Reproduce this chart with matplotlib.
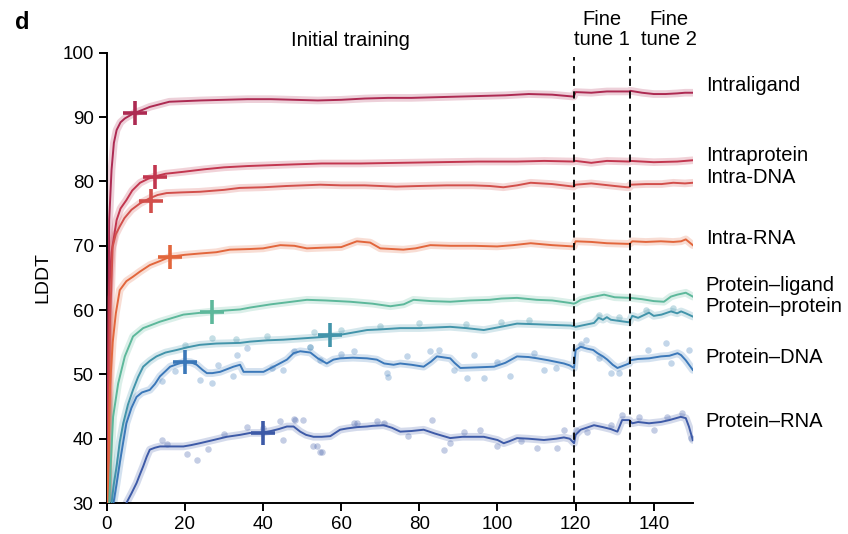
import numpy as np
import matplotlib.pyplot as plt

plt.rcParams['font.family'] = ['Liberation Sans', 'DejaVu Sans']

# --- smoothed curves (x = training step, y = LDDT) ---
intraligand_x = [0.1, 0.6, 1.2, 1.8, 2.5, 3.5, 4.6, 6, 7.2, 9, 11, 13.5, 16, 20, 24, 30, 36, 42, 48, 54,
                 60, 66, 72, 78, 84, 90, 96, 102, 108, 114, 119.5, 120, 124, 128, 132, 133.8, 134, 137,
                 140, 143, 146, 148, 150]
intraligand_y = [28, 74, 81.8, 86, 88, 89.2, 89.8, 90.3, 90.7, 91.1, 91.6, 92.0, 92.4, 92.5, 92.6, 92.7,
                 92.8, 92.8, 92.7, 92.6, 92.7, 92.9, 93.0, 93.0, 93.1, 93.2, 93.3, 93.4, 93.6, 93.5, 93.2,
                 93.9, 93.8, 94.0, 94.0, 94.0, 94.1, 93.8, 93.6, 93.6, 93.7, 93.8, 93.8]

intraprotein_x = [0.1, 0.5, 1.2, 2.5, 3.5, 5, 6.5, 8.5, 10.5, 12.3, 15, 19.5, 25, 30, 36, 45, 55, 65,
                  75, 85, 95, 105, 112, 119.5, 120, 124, 128, 133.8, 134, 140, 146, 150]
intraprotein_y = [28, 62, 69, 74, 75.8, 77.1, 78.6, 79.8, 80.4, 80.8, 81.2, 81.5, 81.9, 82.2, 82.4, 82.6,
                  82.8, 82.8, 82.9, 83.0, 83.1, 83.1, 83.2, 83.1, 83.2, 82.9, 83.2, 83.1, 83.2, 83.0,
                  83.1, 83.3]

intradna_x = [0.3, 0.8, 1.5, 2.3, 3.3, 4.5, 6.3, 8.5, 11, 13, 15.3, 19, 23.8, 30, 34, 40, 46, 54.6, 60,
              66, 74, 80, 87, 93.7, 98, 101.5, 105, 108.5, 114, 119.5, 120, 124, 127, 130, 133.2, 133.8,
              134, 138, 142, 145, 148, 150]
intradna_y = [28, 58, 69.9, 71.8, 73, 74.3, 75.6, 76.6, 77.4, 77.9, 78.2, 78.3, 78.4, 78.7, 79, 79.1,
              79.3, 79.5, 79.4, 79.4, 79.2, 79.3, 79.4, 79.4, 79.3, 79.1, 79.4, 79.8, 79.6, 79.2, 79.5,
              79.7, 79.5, 79.3, 79.1, 79.1, 79.5, 79.6, 79.6, 79.8, 79.7, 79.8]

intrarna_x = [0.2, 0.8, 1.5, 2.3, 3.3, 5, 6.7, 8.5, 11, 13.5, 16.2, 20, 23.8, 28, 31.5, 36.7, 40, 44.4,
              48, 51.2, 55, 60, 64, 67.4, 70, 75.9, 79, 82.8, 88, 94, 99.9, 104, 108.5, 114, 119.5, 120,
              124, 128, 133.2, 133.8, 134.5, 138, 141.8, 145, 147, 148.2, 150]
intrarna_y = [30, 48, 55, 59.5, 63.1, 64.5, 65.2, 66, 67, 67.6, 68.3, 68.6, 68.8, 69.0, 69.4, 69.5,
              69.6, 70.1, 70.0, 69.6, 69.7, 69.8, 70.7, 70.5, 69.6, 69.4, 69.6, 70.1, 70.0, 70.0, 69.9,
              70.1, 70.4, 70.1, 69.9, 70.7, 70.6, 70.4, 70.3, 70.3, 70.7, 70.6, 70.7, 70.6, 70.7, 71.0,
              70.1]

protlig_x = [0.6, 1.0, 1.6, 2.9, 4.6, 6.7, 9.3, 13.6, 19.6, 27.3, 34.1, 36.7, 42, 46, 51.2, 56, 62.3,
             68, 72.6, 76, 78.5, 83, 87.9, 93, 98, 101, 105, 110, 114, 118.7, 119.5, 120, 121.3, 124,
             127.3, 130, 133.8, 134.1, 137, 140, 142.6, 144.4, 146, 148.2, 150]
protlig_y = [30, 36, 43.4, 48.6, 52.8, 55.9, 57.2, 58.2, 59.3, 59.8, 60.1, 60.4, 60.9, 61.2, 61.6, 61.5,
             61.3, 61.0, 60.6, 60.9, 61.6, 61.4, 61.3, 61.5, 61.6, 61.8, 61.9, 61.6, 61.5, 61.1, 61.0,
             61.1, 61.6, 62.0, 62.4, 62.0, 61.9, 61.9, 61.7, 61.4, 61.3, 62.1, 62.4, 62.7, 62.1]

protprot_x = [1.2, 1.8, 2.5, 3.3, 4.2, 5.4, 6.7, 8, 9.3, 11, 12.7, 15, 17.9, 20.5, 23.8, 28, 34.1, 36.7,
              41, 45.2, 50, 57.2, 62, 66.6, 70, 75.1, 80, 84, 87.9, 92, 96.5, 100, 105, 110, 114, 118.7,
              119.5, 120, 124.7, 125.9, 127, 128, 129, 133.7, 134.5, 136, 138.8, 140, 142, 144.4, 146,
              147, 148.2, 150]
protprot_y = [30, 33, 35.7, 39.5, 42.4, 45.3, 47.6, 49.6, 51.2, 52.1, 52.8, 53.4, 53.8, 54.2, 54.6,
              54.8, 54.9, 55.1, 55.3, 55.4, 55.6, 55.9, 56.4, 56.9, 57.0, 57.2, 57.2, 57.3, 57.4, 57.2,
              56.9, 57.3, 57.9, 57.8, 57.7, 57.6, 57.5, 57.4, 58.0, 58.8, 58.5, 58.9, 58.5, 58.1, 59.1,
              58.8, 59.6, 59.1, 59.3, 59.8, 59.5, 59.8, 59.5, 59.0]

protdna_x = [1.7, 2.5, 3.3, 4.2, 5, 6.3, 7.6, 9, 11, 12.3, 13.6, 15, 16.2, 18, 20, 21.5, 23, 24.5, 25.6,
             27, 29, 32.4, 34.1, 35, 37, 40.1, 43, 46.1, 47.8, 49.5, 52.1, 54, 56.3, 58, 59.7, 63, 66.6,
             69.1, 71, 73.4, 75.1, 78, 81.1, 83, 84.5, 87.9, 89, 90.5, 95, 99.1, 102, 105, 108, 110.2,
             113, 117, 118.5, 119.6, 120, 121.3, 123, 124.5, 125.6, 127, 128.1, 129.5, 130.7, 132,
             133.7, 134, 136, 138.8, 141.8, 144, 146.1, 147, 148.2, 150]
protdna_y = [30, 33, 36.2, 39.5, 42.4, 44.8, 46.5, 47.2, 47.6, 48.5, 49.7, 50.5, 51.2, 51.6, 52.0, 51.9,
             51.5, 50.7, 50.2, 50.2, 50.4, 51.2, 51.5, 50.4, 50.4, 50.4, 51.3, 52.3, 53.3, 53.6, 53.4,
             52.5, 51.7, 52.3, 52.5, 52.6, 52.5, 52.3, 51.7, 51.5, 51.7, 51.5, 51.2, 52.0, 52.8, 52.5,
             51.8, 51.0, 51.1, 51.2, 51.8, 52.8, 52.7, 52.5, 52.2, 51.7, 51.4, 51.0, 53.8, 54.3, 54.0,
             53.8, 53.3, 52.8, 52.3, 51.5, 51.0, 51.3, 51.7, 52.2, 52.4, 52.5, 52.8, 52.9, 53.3, 53.0,
             52.2, 50.7]

protrna_x = [5, 6.3, 7.6, 8.5, 9.3, 10.2, 11, 12.3, 13.6, 16, 19.6, 21.5, 23.8, 27.3, 30.7, 34.1, 36.7,
             39.2, 42, 44, 46.1, 47.8, 49.5, 51, 52.9, 55, 57.2, 59.7, 61.5, 64, 66.6, 68, 70.9, 73,
             75.1, 78, 81.1, 84, 87.9, 91, 96.5, 100, 101.6, 103, 105, 108, 111.9, 115, 117, 118.5,
             119.6, 120, 121.3, 124.7, 127, 129, 130.7, 131.9, 133.7, 134.5, 136, 138.8, 141.8, 144,
             146.9, 148.2, 149, 150]
protrna_y = [30, 31.5, 33.1, 34.5, 35.7, 37.2, 38.3, 38.6, 38.8, 38.8, 38.8, 39.0, 39.3, 39.8, 40.3,
             40.6, 40.9, 40.9, 41.2, 41.5, 41.9, 41.9, 41.1, 40.6, 40.3, 40.3, 40.4, 41.4, 41.6, 41.8,
             41.9, 42.0, 42.1, 41.7, 41.1, 41.2, 41.4, 40.8, 40.1, 40.3, 40.3, 39.8, 39.3, 39.6, 40.1,
             40.0, 39.8, 40.0, 40.2, 40.0, 39.3, 40.6, 41.4, 42.1, 41.8, 41.5, 41.1, 42.9, 42.9, 42.4,
             42.6, 42.4, 42.6, 42.9, 43.4, 43.2, 41.9, 39.8]

# --- scattered raw evaluations that stand out from the band ---
protprot_dot_x = [20, 27, 33, 41, 52.1, 53, 60, 70, 80, 92, 101, 108, 126, 131, 138, 145]
protprot_dot_y = [54.6, 55.6, 55.5, 56.0, 54.3, 56.6, 56.9, 57.5, 58.0, 57.9, 58.2, 58.5, 59.2, 59.0,
                  60.0, 60.3]
protdna_dot_x = [14, 17.5, 23.8, 26.8, 28.5, 32.4, 33.3, 35.8, 42.4, 45.2, 47.8, 52.1, 54.6, 60, 63.2,
                 71.7, 71.9, 76.8, 82.8, 84.9, 88.8, 92.2, 93.9, 96.5, 100, 103.3, 109.3, 111.9, 115,
                 121.5, 122.6, 126, 129, 131.1, 138.4, 143.1, 144.4, 149]
protdna_dot_y = [49, 50.5, 49.1, 48.6, 51.5, 49.7, 53, 54.1, 51, 50.7, 53.6, 54.3, 52.3, 53.2, 53.6,
                 50.2, 49.6, 52.8, 53.6, 53.8, 50.7, 49.4, 53, 49.4, 52.0, 49.7, 53.3, 50.7, 51.0,
                 54.8, 55.4, 52.5, 50.2, 50.2, 53.8, 54.9, 51.7, 53.8]
protrna_dot_x = [14, 15.5, 20.4, 23, 26, 30, 35.8, 40, 44.4, 45.2, 47.8, 48.2, 50.3, 52.9, 53.8, 54.6,
                 55, 63.2, 64, 69.1, 70.9, 77, 83.2, 86.2, 87.9, 91.3, 95.6, 99.9, 106, 110.2, 115.3,
                 117, 120, 123, 129, 132, 136.1, 140, 143.4, 147.3, 149.5]
protrna_dot_y = [39.8, 39.2, 37.7, 36.7, 38.4, 40.8, 41.9, 41.6, 42.7, 39.8, 43, 42.9, 42.9, 38.8, 38.8,
                 38, 38, 42.4, 42.4, 42.7, 42.5, 40.5, 42.9, 38.3, 39.3, 41.1, 41.4, 38.8, 39.6, 38.5,
                 38.5, 41.4, 41.4, 41, 42.1, 43.7, 43.4, 41.3, 43.4, 44, 40.1]

names = ['Intraligand', 'Intraprotein', 'Intra-DNA', 'Intra-RNA',
         'Protein–ligand', 'Protein–protein', 'Protein–DNA', 'Protein–RNA']
colors = ['#ad2a52', '#c2364f', '#d24f4b', '#e2663c', '#5db89b', '#4294aa', '#3b78b9', '#3d5aa7']
curves_x = [intraligand_x, intraprotein_x, intradna_x, intrarna_x, protlig_x, protprot_x, protdna_x, protrna_x]
curves_y = [intraligand_y, intraprotein_y, intradna_y, intrarna_y, protlig_y, protprot_y, protdna_y, protrna_y]
label_y = [94.9, 84.1, 80.6, 71.2, 63.9, 60.5, 52.7, 42.6]

# "+" markers on each curve
cross_x = [7.2, 12.3, 11.3, 16.2, 26.9, 57.2, 20.0, 40.0]
cross_y = [90.7, 80.7, 77.0, 68.3, 59.7, 56.1, 52.0, 40.9]

fine_tune_starts = [119.7, 133.8]

fig = plt.figure(figsize=(8.48, 5.34), dpi=100)
ax = fig.add_axes([0.126, 0.058, 0.691, 0.843])

for xs, ys, c in zip(curves_x, curves_y, colors):
    ax.plot(xs, ys, color=c, lw=5.5, alpha=0.22, solid_capstyle='round', zorder=1)

dots = [(protprot_dot_x, protprot_dot_y, colors[5]),
        (protdna_dot_x, protdna_dot_y, colors[6]),
        (protrna_dot_x, protrna_dot_y, colors[7])]
for dx, dy, c in dots:
    ax.scatter(dx, dy, s=22, color=c, alpha=0.3, lw=0, zorder=1)

for xs, ys, c in zip(curves_x, curves_y, colors):
    ax.plot(xs, ys, color=c, lw=1.4, zorder=3)

for cx, cy, c in zip(cross_x, cross_y, colors):
    ax.plot(cx, cy, marker='+', ms=17, mew=2.6, color=c, zorder=4)

for name, ly in zip(names, label_y):
    ax.text(153.3, ly, name, fontsize=14.5, va='center', ha='left', clip_on=False)

for xv in fine_tune_starts:
    ax.plot([xv, xv], [30, 99.4], color='black', lw=1.3, ls=(0, (4, 3)), clip_on=False, zorder=5)

ax.text(62.3, 102.0, 'Initial training', fontsize=14.5, ha='center', va='center', clip_on=False)
ax.text(126.7, 103.6, 'Fine\ntune 1', fontsize=14.5, ha='center', va='center', linespacing=1.05, clip_on=False)
ax.text(143.8, 103.6, 'Fine\ntune 2', fontsize=14.5, ha='center', va='center', linespacing=1.05, clip_on=False)

ax.set_xlim(0, 150)
ax.set_ylim(30, 100)
ax.set_xticks(range(0, 141, 20))
ax.set_yticks(range(30, 101, 10))
ax.set_ylabel('LDDT', fontsize=14, labelpad=8)
ax.tick_params(labelsize=13.5, width=1.4, length=6)
for side in ['top', 'right']:
    ax.spines[side].set_visible(False)
for side in ['left', 'bottom']:
    ax.spines[side].set_linewidth(1.4)

fig.text(0.018, 0.958, 'd', fontsize=17, fontweight='bold', va='center')

fig.savefig('out.png', dpi=100)
